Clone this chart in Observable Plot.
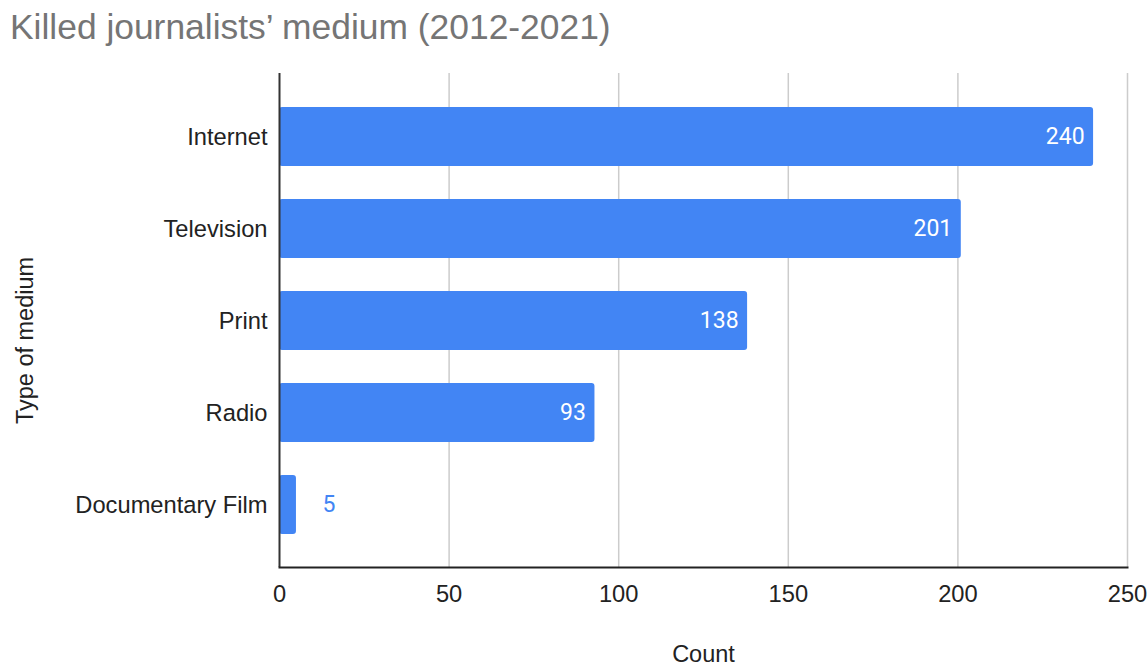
<!DOCTYPE html>
<html><head><meta charset="utf-8">
<script src="https://cdn.jsdelivr.net/npm/d3@7"></script>
<script src="https://cdn.jsdelivr.net/npm/@observablehq/plot@0.6"></script>
<style>
html,body{margin:0;padding:0;background:#fff;}
#wrap{position:relative;width:1148px;height:667px;overflow:hidden;}
#title{position:absolute;left:10px;top:10px;font-family:"Liberation Sans",Arial,sans-serif;font-size:35.4px;line-height:35px;color:#757575;white-space:nowrap;}
#chart{position:absolute;left:0;top:60px;}
</style></head>
<body><div id="wrap"><div id="title">Killed journalists’ medium (2012-2021)</div><div id="chart"></div></div>
<script>
const categories = ["Internet", "Television", "Print", "Radio", "Documentary Film"];
const counts = [240, 201, 138, 93, 5];
const xTicks = [0, 50, 100, 150, 200, 250];
const xLabel = "Count";
const yLabel = "Type of medium";
const data = categories.map((c, i) => ({medium: c, count: counts[i]}));
const inside = data.filter(d => d.count >= 20);
const outside = data.filter(d => d.count < 20);

const chart = Plot.plot({
  width: 1148, height: 607,
  marginTop: 13, marginBottom: 100, marginLeft: 279, marginRight: 21,
  style: {fontFamily: "'Liberation Sans', Arial, sans-serif", fontSize: "23.7px", color: "#222", background: "#fff"},
  x: {domain: [0, 250], ticks: xTicks, label: null, tickSize: 0, tickPadding: 18},
  y: {domain: categories, padding: 0.36, label: null, tickSize: 0, tickPadding: 12},
  marks: [
    Plot.ruleX(xTicks.filter(t => t > 0), {stroke: "#cccccc", strokeWidth: 1.5, strokeOpacity: 1}),
    Plot.barX(data, {x: "count", y: "medium", fill: "#4285f4", rx: 3}),
    Plot.ruleX([0], {stroke: "#333", strokeWidth: 2}),
    Plot.frame({anchor: "bottom", stroke: "#222", strokeWidth: 2}),
    Plot.text(inside, {x: "count", y: "medium", text: d => String(d.count), textAnchor: "end", dx: -9, fill: "white", fontSize: 23, fontFamily: "Roboto, sans-serif"}),
    Plot.text(outside, {x: "count", y: "medium", text: d => String(d.count), textAnchor: "start", dx: 26, fill: "#4285f4", fontSize: 23, fontFamily: "Roboto, sans-serif"}),
    Plot.text([xLabel], {frameAnchor: "bottom", text: d => d, lineAnchor: "middle", dy: 86.5, fill: "#222", fontSize: 23.5}),
    Plot.text([yLabel], {frameAnchor: "left", text: d => d, rotate: -90, textAnchor: "middle", lineAnchor: "middle", dx: -253.7, dy: 20, fill: "#222", fontSize: 23.5})
  ]
});
document.getElementById("chart").appendChild(chart);
</script></body></html>
